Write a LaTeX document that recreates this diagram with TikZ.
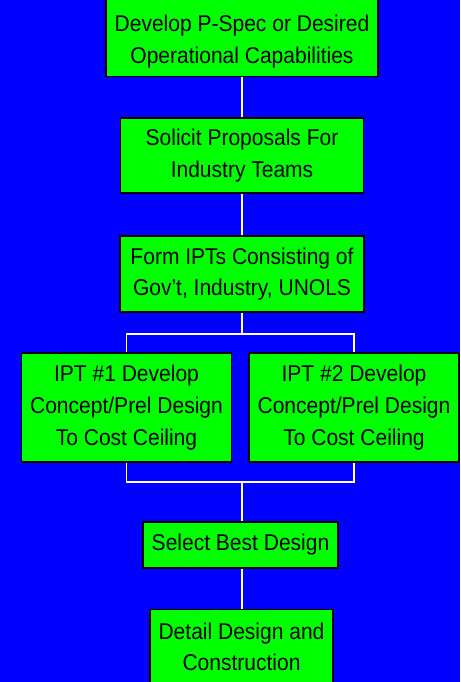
\documentclass[tikz,border=0pt]{standalone}
\usepackage{fontspec}
\setmainfont{Liberation Sans}
\usetikzlibrary{calc}

\definecolor{bgblue}{RGB}{0,0,255}
\definecolor{boxgreen}{RGB}{0,255,0}

\tikzset{
  stepbox/.style={draw=black, line width=1.1pt, fill=boxgreen, align=center,
    inner sep=0pt, font=\fontsize{13}{18}\selectfont\addfontfeature{FakeStretch=0.92}},
  link/.style={draw=white, line width=1.1pt}
}

\begin{document}
\begin{tikzpicture}[x=0.02cm, y=-0.02cm]
\fill[bgblue] (0,0) rectangle (460,682);
\useasboundingbox (0,0) rectangle (460,682);
% process boxes
\node[stepbox, minimum width=5.44cm, minimum height=1.58cm] (spec) at (242,37) {\rule{0pt}{15pt}Develop P-Spec or Desired\\Operational Capabilities};
\node[stepbox, minimum width=4.86cm, minimum height=1.50cm] (solicit) at (242,155.5) {Solicit Proposals For\\Industry Teams};
\node[stepbox, minimum width=4.88cm, minimum height=1.52cm] (form) at (242,274) {Form IPTs Consisting of\\Gov't, Industry, UNOLS};
\node[stepbox, minimum width=4.20cm, minimum height=2.18cm] (iptA) at (126.5,407.5) {IPT \#1 Develop\\Concept/Prel Design\\To Cost Ceiling};
\node[stepbox, minimum width=4.20cm, minimum height=2.18cm] (iptB) at (354,407.5) {IPT \#2 Develop\\Concept/Prel Design\\To Cost Ceiling};
\node[stepbox, minimum width=3.90cm, minimum height=0.92cm] (select) at (240.5,545) {Select Best Design};
\node[stepbox, minimum width=3.66cm, minimum height=1.50cm] (detail) at (241.5,647) {Detail Design and\\Construction};
% connectors
\coordinate (splitT) at (242,334);
\coordinate (splitB) at (242,482);
\draw[link] (spec.south) -- (spec.south |- solicit.north);
\draw[link] (solicit.south) -- (solicit.south |- form.north);
\draw[link] (form.south) -- (splitT);
\draw[link] (iptA.north) |- (splitT) -| (iptB.north);
\draw[link] (iptA.south) |- (splitB) -| (iptB.south);
\draw[link] (splitB) -- (splitB |- select.north);
\draw[link] (splitB |- select.south) -- (splitB |- detail.north);
\end{tikzpicture}
\end{document}
